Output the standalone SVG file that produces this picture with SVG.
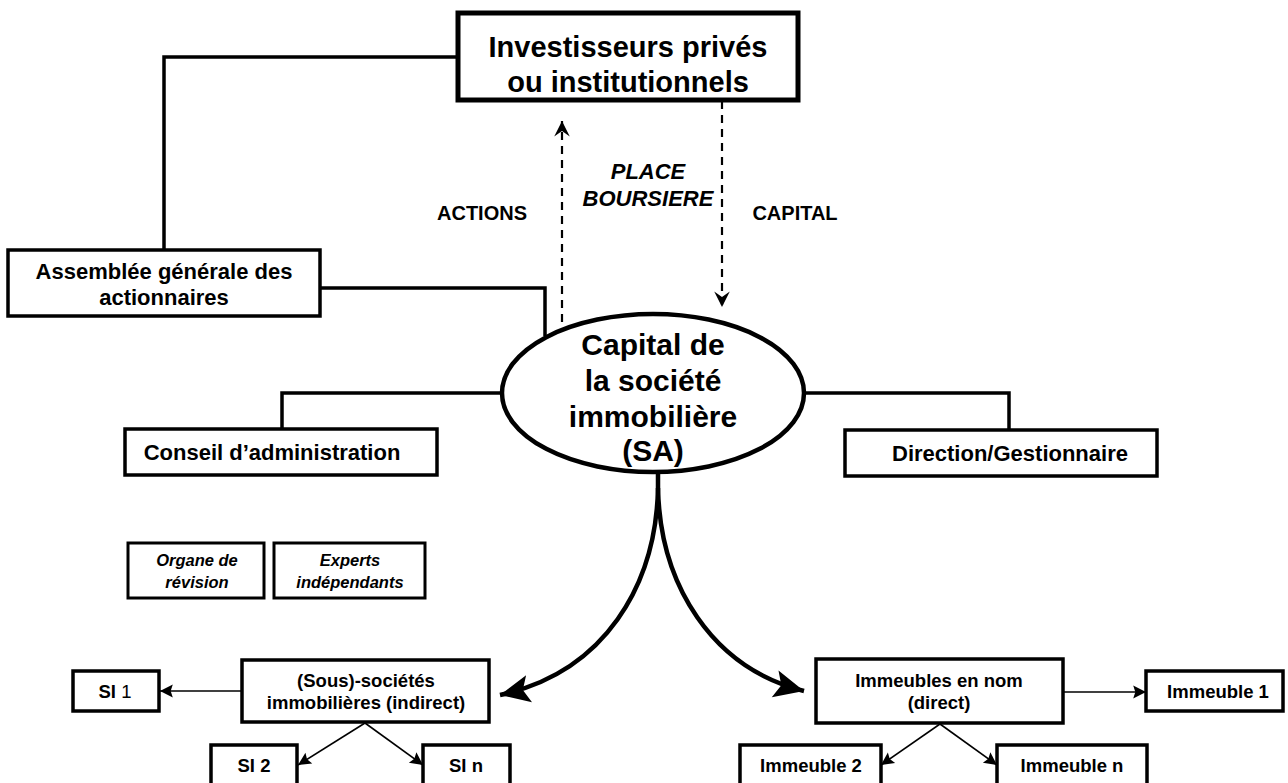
<svg xmlns="http://www.w3.org/2000/svg" width="1288" height="783" viewBox="0 0 1288 783">
<style>
.box{fill:#fff;stroke:#000;stroke-width:3.5}
.thick{stroke-width:5}
.thin{stroke-width:3}
.ln{fill:none;stroke:#000;stroke-width:3.5}
.dash{fill:none;stroke:#000;stroke-width:2.2;stroke-dasharray:8,6}
.sm{fill:none;stroke:#000;stroke-width:1.6}
.curve{fill:none;stroke:#000;stroke-width:4.5}
text{font-family:"Liberation Sans",Arial,sans-serif;font-weight:bold;fill:#000;text-anchor:middle}
.it{font-style:italic}
</style>
<defs>
<marker id="open" markerUnits="userSpaceOnUse" markerWidth="20" markerHeight="20" viewBox="-16 -8 18 16" refX="0" refY="0" orient="auto"><path d="M0,0 L-14,-7 L-9,0 L-14,7 z" fill="#000"/></marker>
<marker id="small" markerUnits="userSpaceOnUse" markerWidth="16" markerHeight="16" viewBox="-14 -7 15 14" refX="0" refY="0" orient="auto"><path d="M0,0 L-12,-6 L-10,0 L-12,6 z" fill="#000"/></marker>
<marker id="big" markerUnits="userSpaceOnUse" markerWidth="34" markerHeight="34" viewBox="-30 -15 32 30" refX="0" refY="0" orient="auto"><path d="M0,0 L-28,-13 L-22,0 L-28,13 z" fill="#000"/></marker>
</defs>
<g id="connectors">
<polyline class="ln" points="458,57 164,57 164,250"/>
<polyline class="ln" points="320,288 545,288 545,336"/>
<polyline class="ln" points="502,393 282,393 282,429"/>
<polyline class="ln" points="804,393 1009,393 1009,430"/>
<line class="dash" x1="562" y1="322" x2="562" y2="121" marker-end="url(#open)"/>
<line class="dash" x1="722" y1="101" x2="722" y2="307" marker-end="url(#open)"/>
<path class="curve" d="M658,472 L658,488 C656,585 605,672 500,695" marker-end="url(#big)"/>
<path class="curve" d="M658,488 C660,585 712,668 804,691" marker-end="url(#big)"/>
<line class="sm" x1="242" y1="691" x2="160" y2="691" marker-end="url(#small)"/>
<line class="sm" x1="365" y1="723" x2="298" y2="765" marker-end="url(#small)"/>
<line class="sm" x1="365" y1="723" x2="423" y2="765" marker-end="url(#small)"/>
<line class="sm" x1="1063" y1="692" x2="1146" y2="692" marker-end="url(#small)"/>
<line class="sm" x1="940" y1="724" x2="881" y2="765" marker-end="url(#small)"/>
<line class="sm" x1="940" y1="724" x2="997" y2="765" marker-end="url(#small)"/>
</g>
<g id="labels">
<text x="482" y="220" font-size="20">ACTIONS</text>
<text class="it" x="648" y="179" font-size="22">PLACE</text>
<text class="it" x="648" y="206" font-size="22">BOURSIERE</text>
<text x="795" y="220" font-size="20">CAPITAL</text>
</g>
<g id="investisseurs">
<rect class="box thick" x="458" y="13" width="340" height="87"/>
<text x="628" y="57" font-size="29">Investisseurs privés</text>
<text x="628" y="92" font-size="29">ou institutionnels</text>
</g>
<g id="assemblee">
<rect class="box" x="8" y="250" width="312" height="66"/>
<text x="164" y="279" font-size="22">Assemblée générale des</text>
<text x="164" y="305" font-size="22">actionnaires</text>
</g>
<g id="capital">
<ellipse class="box" cx="653" cy="393" rx="151" ry="79" style="stroke-width:4.5"/>
<text x="653" y="355" font-size="30">Capital de</text>
<text x="653" y="391" font-size="30">la société</text>
<text x="653" y="427" font-size="30">immobilière</text>
<text x="653" y="461" font-size="30">(SA)</text>
</g>
<g id="conseil">
<rect class="box" x="125" y="429" width="312" height="46"/>
<text x="272" y="460" font-size="22">Conseil d’administration</text>
</g>
<g id="direction">
<rect class="box" x="845" y="430" width="312" height="46"/>
<text x="1010" y="461" font-size="22">Direction/Gestionnaire</text>
</g>
<g id="organe">
<rect class="box thin" x="128" y="543" width="136" height="55"/>
<text class="it" x="197" y="566" font-size="16.5">Organe de</text>
<text class="it" x="197" y="588" font-size="16.5">révision</text>
</g>
<g id="experts">
<rect class="box thin" x="274" y="543" width="151" height="55"/>
<text class="it" x="350" y="566" font-size="16.5">Experts</text>
<text class="it" x="350" y="588" font-size="16.5">indépendants</text>
</g>
<g id="sous-societes">
<rect class="box" x="242" y="660" width="247" height="62"/>
<text x="366" y="687" font-size="18.5">(Sous)-sociétés</text>
<text x="366" y="709" font-size="18.5">immobilières (indirect)</text>
</g>
<g id="si1">
<rect class="box" x="73" y="671" width="86" height="40"/>
<text x="115" y="698" font-size="18.5">SI <tspan font-weight="normal">1</tspan></text>
</g>
<g id="si2">
<rect class="box" x="211" y="745" width="86" height="46"/>
<text x="254" y="772" font-size="18.5">SI 2</text>
</g>
<g id="sin">
<rect class="box" x="423" y="745" width="87" height="46"/>
<text x="466" y="772" font-size="18.5">SI n</text>
</g>
<g id="immeubles">
<rect class="box" x="816" y="659" width="247" height="64"/>
<text x="939" y="687" font-size="18.5">Immeubles en nom</text>
<text x="939" y="709" font-size="18.5">(direct)</text>
</g>
<g id="immeuble1">
<rect class="box" x="1146" y="671" width="137" height="40"/>
<text x="1218" y="698" font-size="18.5">Immeuble 1</text>
</g>
<g id="immeuble2">
<rect class="box" x="740" y="745" width="141" height="46"/>
<text x="811" y="772" font-size="18.5">Immeuble 2</text>
</g>
<g id="immeublen">
<rect class="box" x="997" y="745" width="150" height="46"/>
<text x="1072" y="772" font-size="18.5">Immeuble n</text>
</g>
</svg>
